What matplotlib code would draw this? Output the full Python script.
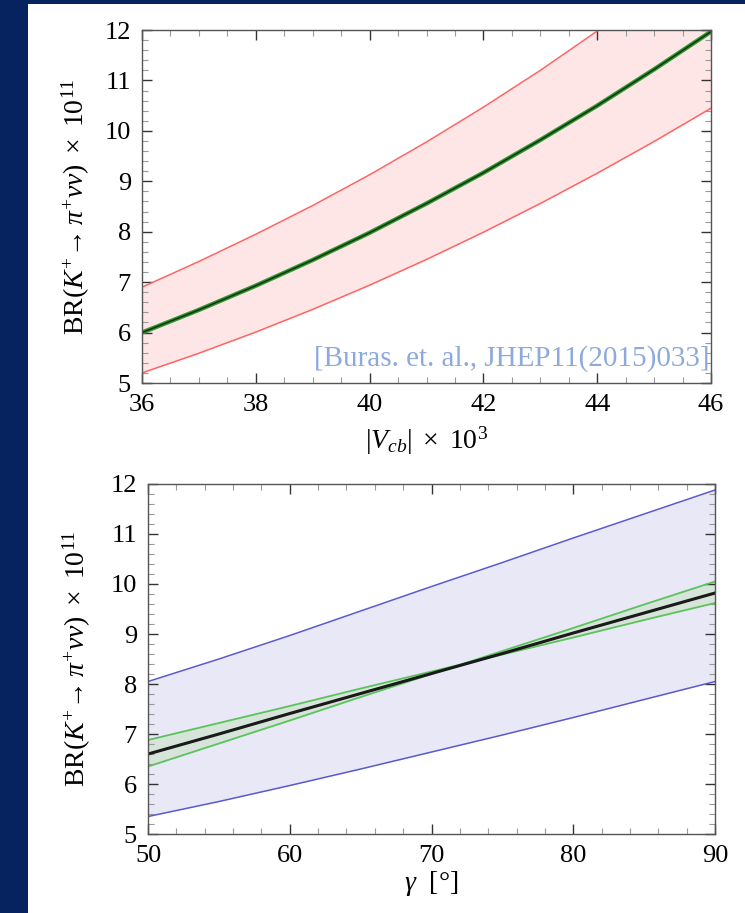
import matplotlib
matplotlib.use('Agg')
import matplotlib.pyplot as plt
from matplotlib.patches import Rectangle
from matplotlib.ticker import MultipleLocator
import numpy as np

plt.rcParams['font.family'] = ['Liberation Serif', 'DejaVu Serif']
plt.rcParams['mathtext.fontset'] = 'custom'
plt.rcParams['mathtext.rm'] = 'Liberation Serif'
plt.rcParams['mathtext.it'] = 'Liberation Serif:italic'
plt.rcParams['mathtext.bf'] = 'Liberation Serif:bold'

# BR vs |Vcb| x 10^3
vcb = [36, 37, 38, 39, 40, 41, 42, 43, 44, 45, 46]
vcb_central = [6.0, 6.45, 6.93, 7.44, 7.98, 8.56, 9.17, 9.82, 10.5, 11.22, 11.97]
vcb_upper = [6.9, 7.41, 7.95, 8.52, 9.13, 9.78, 10.47, 11.2, 11.98, 12.8, 13.67]
vcb_lower = [5.2, 5.59, 6.01, 6.46, 6.94, 7.45, 7.99, 8.56, 9.16, 9.79, 10.45]

# BR vs gamma [deg]
gamma = [50, 55, 60, 65, 70, 75, 80, 85, 90]
gam_upper = [8.05, 8.5, 8.97, 9.46, 9.95, 10.43, 10.92, 11.4, 11.88]
gam_lower = [5.35, 5.65, 5.97, 6.3, 6.64, 6.98, 7.33, 7.69, 8.05]
gam_central = [6.6, 7.0, 7.41, 7.81, 8.21, 8.61, 9.02, 9.42, 9.82]
gam_green_a = [6.88, 7.22, 7.56, 7.91, 8.25, 8.59, 8.93, 9.28, 9.62]
gam_green_b = [6.35, 6.81, 7.27, 7.74, 8.2, 8.66, 9.12, 9.59, 10.05]

ylabel = r'$\mathrm{BR}(K^{+}\!\rightarrow\pi^{+}\nu\nu)\ \times\ 10^{11}$'
navy = '#06225f'


def style_axes(ax, xmajor, xminor):
    ax.set_ylim(5, 12)
    ax.yaxis.set_major_locator(MultipleLocator(1))
    ax.yaxis.set_minor_locator(MultipleLocator(0.2))
    ax.xaxis.set_major_locator(MultipleLocator(xmajor))
    ax.xaxis.set_minor_locator(MultipleLocator(xminor))
    ax.tick_params(which='both', direction='in', top=True, right=True)
    ax.tick_params(which='major', length=7, width=1.0, color='#333333',
                   labelsize=19, pad=8)
    ax.tick_params(which='minor', length=4, width=0.8, color='#999999')
    for s in ax.spines.values():
        s.set_color('#555555')
        s.set_linewidth(1.0)


fig = plt.figure(figsize=(7.45, 9.13), dpi=100)
fig.patch.set_facecolor(navy)
fig.add_artist(Rectangle((28 / 745, 0), 1, 1 - 4 / 913,
                         transform=fig.transFigure, facecolor='white',
                         edgecolor='none', zorder=-10))

# top panel
ax1 = fig.add_axes([0.1906, 0.5805, 0.7638, 0.3866])
ax1.set_xlim(36, 46)
ax1.fill_between(vcb, vcb_lower, vcb_upper, color='#ffe6e6', lw=0)
ax1.plot(vcb, vcb_upper, color='#ff6464', lw=1.1)
ax1.plot(vcb, vcb_lower, color='#ff6464', lw=1.1)
ax1.plot(vcb, vcb_central, color='#2f9a2f', lw=3.2, solid_capstyle='butt')
ax1.plot(vcb, vcb_central, color='#143814', lw=1.2)
style_axes(ax1, 2, 0.5)
ax1.set_xlabel(r'$|V_{cb}|\ \times\ 10^{3}$', fontsize=20)
ax1.xaxis.set_label_coords(0.5, -0.118)
ax1.set_ylabel(ylabel, fontsize=20)
ax1.yaxis.set_label_coords(-0.088, 0.5)
ax1.text(0.998, 0.05, '[Buras. et. al., JHEP11(2015)033]', transform=ax1.transAxes,
         ha='right', va='baseline', fontsize=21, color='#8eaadc',
         family=['Liberation Serif'], clip_on=False)

# bottom panel
ax2 = fig.add_axes([0.1987, 0.0865, 0.7611, 0.3834])
ax2.set_xlim(50, 90)
ax2.fill_between(gamma, gam_lower, gam_upper, color='#e8e8f6', lw=0)
ax2.plot(gamma, gam_upper, color='#5a5ad0', lw=1.1)
ax2.plot(gamma, gam_lower, color='#5a5ad0', lw=1.1)
ax2.fill_between(gamma, gam_green_a, gam_green_b, color='#d6e4da', lw=0)
ax2.plot(gamma, gam_green_a, color='#5cc35c', lw=1.3)
ax2.plot(gamma, gam_green_b, color='#5cc35c', lw=1.3)
ax2.plot(gamma, gam_central, color='#1a1a1a', lw=2.2)
style_axes(ax2, 10, 2)
ax2.set_xlabel(r'$\gamma$  [°]', fontsize=20)
ax2.xaxis.set_label_coords(0.5, -0.1)
ax2.set_ylabel(ylabel, fontsize=20)
ax2.yaxis.set_label_coords(-0.097, 0.5)

fig.savefig('out.png', dpi=100, facecolor=fig.get_facecolor())
